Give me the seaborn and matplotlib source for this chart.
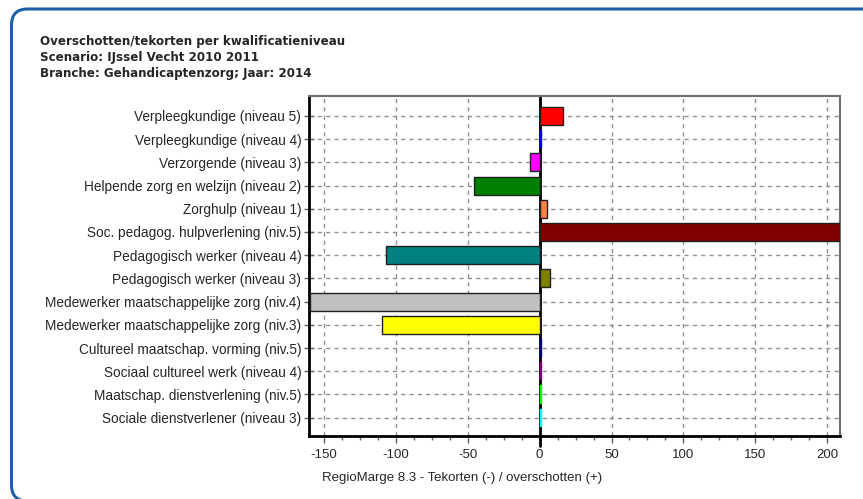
import matplotlib
matplotlib.use("Agg")
import matplotlib.pyplot as plt
from matplotlib.patches import FancyBboxPatch
from matplotlib.ticker import MultipleLocator
import pandas as pd
import seaborn as sns

# data
categories = [
    "Verpleegkundige (niveau 5)",
    "Verpleegkundige (niveau 4)",
    "Verzorgende (niveau 3)",
    "Helpende zorg en welzijn (niveau 2)",
    "Zorghulp (niveau 1)",
    "Soc. pedagog. hulpverlening (niv.5)",
    "Pedagogisch werker (niveau 4)",
    "Pedagogisch werker (niveau 3)",
    "Medewerker maatschappelijke zorg (niv.4)",
    "Medewerker maatschappelijke zorg (niv.3)",
    "Cultureel maatschap. vorming (niv.5)",
    "Sociaal cultureel werk (niveau 4)",
    "Maatschap. dienstverlening (niv.5)",
    "Sociale dienstverlener (niveau 3)",
]
values = [16, 1.4, -7, -46, 5, 210, -107, 7, -160, -110, 1.4, 1.4, 1.6, 1.6]
colors = ["#FF0000", "#0000FF", "#FF00FF", "#008000", "#FF8040", "#800000",
          "#008080", "#808000", "#C0C0C0", "#FFFF00", "#000080", "#800080",
          "#00FF00", "#00FFFF"]

title_lines = ["Overschotten/tekorten per kwalificatieniveau",
               "Scenario: IJssel Vecht 2010 2011",
               "Branche: Gehandicaptenzorg; Jaar: 2014"]
xlabel = "RegioMarge 8.3 - Tekorten (-) / overschotten (+)"

df = pd.DataFrame({"beroep": categories, "waarde": values})

sns.set_style("white")
plt.rcParams["font.family"] = ["Liberation Sans", "DejaVu Sans"]
plt.rcParams["axes.unicode_minus"] = False

fig = plt.figure(figsize=(8.63, 4.99), dpi=100)
ax = fig.add_axes([309 / 863, 1 - 436 / 499, (840 - 309) / 863, (436 - 96) / 499])

sns.barplot(data=df, x="waarde", y="beroep", hue="beroep", palette=colors,
            order=categories, hue_order=categories, orient="h", width=0.78,
            saturation=1, legend=False, ax=ax, edgecolor="#202020",
            linewidth=1, zorder=3)

# tiny bars show only their own colour
for bar, v, c in zip(ax.patches, values, colors):
    if abs(v) < 2:
        bar.set_edgecolor(c)
        bar.set_linewidth(0.3)

ax.set_xlim(-160.5, 209)
ax.set_ylim(13.79, -0.86)
ax.xaxis.set_major_locator(MultipleLocator(50))
ax.xaxis.set_minor_locator(MultipleLocator(12.5))

ax.grid(True, which="major", color="#909090", linestyle=(0, (3, 3)), linewidth=1, zorder=0)
ax.set_axisbelow(True)
ax.axvline(0, ymin=-0.03, ymax=1, color="black", linewidth=2, zorder=2.5, clip_on=False)

for side in ["top", "right"]:
    ax.spines[side].set_color("#707070")
    ax.spines[side].set_linewidth(1.5)
for side in ["left", "bottom"]:
    ax.spines[side].set_color("black")
    ax.spines[side].set_linewidth(2)

ax.tick_params(axis="y", direction="inout", length=7, width=1, color="#606060",
               labelsize=9.8, pad=2, left=True)
ax.tick_params(axis="x", which="major", direction="out", length=5, width=1,
               color="#606060", labelsize=9.5, pad=4, bottom=True)
ax.tick_params(axis="x", which="minor", direction="out", length=3, width=1,
               color="#606060", bottom=True)
ax.set_xlabel("")
ax.set_ylabel("")

fig.text(322 / 863, 1 - 478 / 499, xlabel, fontsize=9.5, va="center", ha="left")

for i, line in enumerate(title_lines):
    fig.text(40 / 863, 1 - (42 + 15.5 * i) / 499, line, fontsize=8.6,
             fontweight="bold", family="DejaVu Sans", va="center", ha="left")

frame = FancyBboxPatch((0.115, -0.02), 9.0, 4.99 - 0.09 + 0.02,
                       boxstyle="round,pad=0,rounding_size=0.16",
                       transform=fig.dpi_scale_trans, facecolor="none",
                       edgecolor="#1F5FA8", linewidth=2.2, zorder=10)
fig.patches.append(frame)

fig.savefig("out.png", dpi=100)
